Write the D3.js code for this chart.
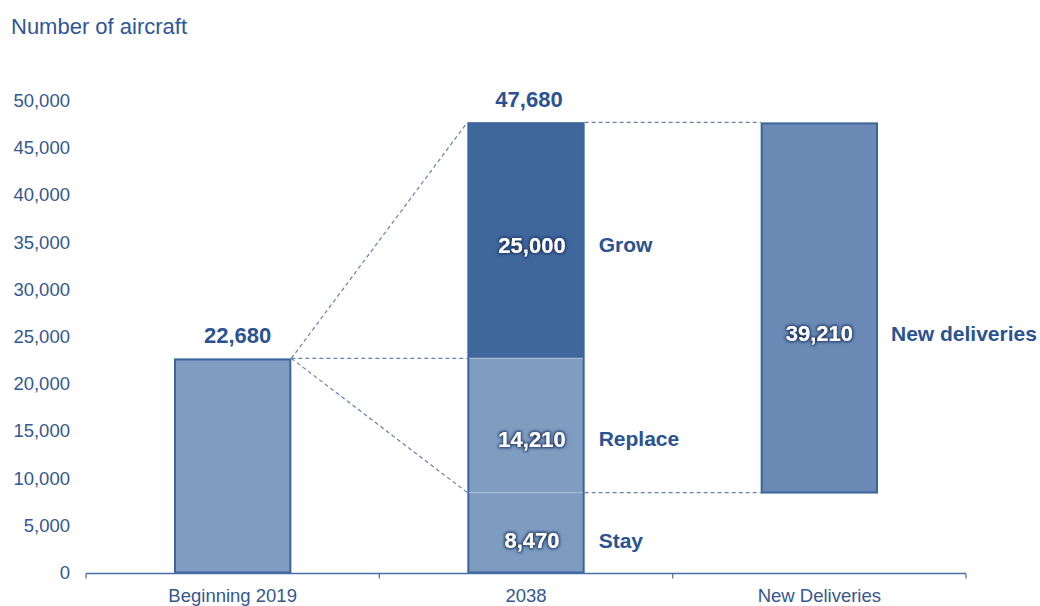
<!DOCTYPE html>
<html>
<head>
<meta charset="utf-8">
<script src="https://cdn.jsdelivr.net/npm/d3@7"></script>
<style>
  html, body { margin: 0; padding: 0; background: #fff; }
  svg { display: block; font-family: "Liberation Sans", Arial, sans-serif; }
</style>
</head>
<body>
<svg id="chart" width="1040" height="606"></svg>
<script>
// Fleet walk: aircraft in service at the beginning of 2019 vs 2038
const categories = ["Beginning 2019", "2038", "New Deliveries"];
const fleetStart = 22680;
const segmentNames = ["Stay", "Replace", "Grow"];
const segmentValues = [8470, 14210, 25000];
const fleetEnd = 47680;
const newDeliveries = 39210;
const deliveriesLabel = "New deliveries";
const yTicks = [0, 5000, 10000, 15000, 20000, 25000, 30000, 35000, 40000, 45000, 50000];
const yTitle = "Number of aircraft";

const svg = d3.select("#chart");
const fmt = d3.format(",");

const x = d3.scaleBand().domain(categories).range([86, 966]).paddingInner(0.6).paddingOuter(0.3);
const y = d3.scaleLinear().domain([0, 50000]).range([572.5, 100.5]);

const textBlue = "#2b5391";
const axisBlue = "#4a6ea6";
const edge = "#3d659d";

// soft dark halo behind the white in-bar figures
const defs = svg.append("defs");
const glow = defs.append("filter").attr("id", "halo").attr("x", "-20%").attr("y", "-40%").attr("width", "140%").attr("height", "180%");
glow.append("feMorphology").attr("in", "SourceAlpha").attr("operator", "dilate").attr("radius", 1.2).attr("result", "thick");
glow.append("feGaussianBlur").attr("in", "thick").attr("stdDeviation", 1.8).attr("result", "blur");
glow.append("feFlood").attr("flood-color", "#1a3766").attr("flood-opacity", 1);
glow.append("feComposite").attr("in2", "blur").attr("operator", "in").attr("result", "shadow");
const merge = glow.append("feMerge");
merge.append("feMergeNode").attr("in", "shadow");
merge.append("feMergeNode").attr("in", "SourceGraphic");

// axis title
svg.append("text").attr("x", 11).attr("y", 34)
  .attr("fill", "#2f5696").attr("font-size", 22).text(yTitle);

// y axis (labels only)
const yAxis = svg.append("g").attr("transform", "translate(86,0)")
  .call(d3.axisLeft(y).tickValues(yTicks).tickFormat(fmt).tickSize(0).tickPadding(16));
yAxis.select(".domain").remove();
yAxis.selectAll("text").attr("fill", "#34588f").attr("font-size", 18.5)
  .attr("font-family", "Liberation Sans, Arial, sans-serif");

// stacked segments for 2038
let acc = 0;
const stack = segmentNames.map((name, i) => {
  const s = { name, value: segmentValues[i], y0: acc, y1: acc + segmentValues[i] };
  acc += segmentValues[i];
  return s;
});
const segFill = { Stay: "#7e9bc0", Replace: "#7f9cc1", Grow: "#3f679c" };
const labelFrac = { Stay: 0.40, Replace: 0.40, Grow: 0.48 };

const bw = x.bandwidth();

// dashed connectors
const conn = svg.append("g").attr("stroke", "#6783ae").attr("stroke-width", 1.2)
  .attr("stroke-dasharray", "4,3").attr("fill", "none");
const x1r = x(categories[0]) + bw, x2l = x(categories[1]), x2r = x(categories[1]) + bw, x3l = x(categories[2]);
[fleetEnd, fleetStart, stack[0].y1].forEach(v => {
  conn.append("line").attr("x1", x1r).attr("y1", y(fleetStart)).attr("x2", x2l).attr("y2", y(v));
});
[fleetEnd, stack[0].y1].forEach(v => {
  conn.append("line").attr("x1", x2r).attr("y1", y(v)).attr("x2", x3l).attr("y2", y(v));
});

// bar: beginning 2019
svg.append("rect")
  .attr("x", x(categories[0]) + 1).attr("width", bw - 2)
  .attr("y", y(fleetStart) + 1).attr("height", y(0) - y(fleetStart) - 1)
  .attr("fill", "#7f9cc1").attr("stroke", edge).attr("stroke-width", 2);

// bar: 2038 stack
svg.append("g").selectAll("rect").data(stack).join("rect")
  .attr("x", x(categories[1]) + 1).attr("width", bw - 2)
  .attr("y", d => y(d.y1)).attr("height", d => y(d.y0) - y(d.y1))
  .attr("fill", d => segFill[d.name]);
svg.append("rect")
  .attr("x", x(categories[1]) + 1).attr("width", bw - 2)
  .attr("y", y(fleetEnd) + 1).attr("height", y(0) - y(fleetEnd) - 1)
  .attr("fill", "none").attr("stroke", edge).attr("stroke-width", 2);
// light seams between segments
svg.append("g").selectAll("line").data(stack.slice(1)).join("line")
  .attr("x1", x(categories[1]) + 2).attr("x2", x(categories[1]) + bw - 2)
  .attr("y1", d => y(d.y0)).attr("y2", d => y(d.y0))
  .attr("stroke", "#a9bcd6").attr("stroke-width", 1.2);

// bar: new deliveries (floats from the retained fleet up to the 2038 total)
const ndBase = fleetEnd - newDeliveries;
svg.append("rect")
  .attr("x", x(categories[2]) + 1).attr("width", bw - 2)
  .attr("y", y(fleetEnd) + 1).attr("height", y(ndBase) - y(fleetEnd) - 1)
  .attr("fill", "#6a8ab5").attr("stroke", edge).attr("stroke-width", 2);

// x axis: baseline, ticks at the category boundaries, centred labels
const y0 = y(0);
const [xa, xb] = x.range();
svg.append("line").attr("x1", xa).attr("x2", xb).attr("y1", y0 + 1).attr("y2", y0 + 1)
  .attr("stroke", axisBlue).attr("stroke-width", 1.5);
svg.append("g").selectAll("line").data(d3.range(categories.length + 1)).join("line")
  .attr("x1", i => xa + (xb - xa) * i / categories.length)
  .attr("x2", i => xa + (xb - xa) * i / categories.length)
  .attr("y1", y0 + 1).attr("y2", y0 + 6).attr("stroke", axisBlue).attr("stroke-width", 1.2);
svg.append("g").selectAll("text").data(categories).join("text")
  .attr("x", d => x(d) + bw / 2).attr("y", 602)
  .attr("text-anchor", "middle").attr("fill", "#34588f").attr("font-size", 18.5)
  .text(d => d);

// totals above bars
svg.append("text").attr("x", x(categories[0]) + bw / 2 + 5).attr("y", y(fleetStart) - 15)
  .attr("text-anchor", "middle").attr("fill", textBlue).attr("font-weight", "bold").attr("font-size", 22)
  .text(fmt(fleetStart));
svg.append("text").attr("x", x(categories[1]) + bw / 2 + 3).attr("y", y(fleetEnd) - 15)
  .attr("text-anchor", "middle").attr("fill", textBlue).attr("font-weight", "bold").attr("font-size", 22)
  .text(fmt(fleetEnd));

// segment figures and names
stack.forEach(s => {
  const cy = y(s.y0 + (s.y1 - s.y0) * labelFrac[s.name]);
  svg.append("text").attr("x", x(categories[1]) + bw / 2 + 6).attr("y", cy).attr("dy", "0.35em")
    .attr("text-anchor", "middle").attr("fill", "#fff").attr("font-weight", "bold").attr("font-size", 22)
    .attr("filter", "url(#halo)").text(fmt(s.value));
  svg.append("text").attr("x", x(categories[1]) + bw + 14).attr("y", cy).attr("dy", "0.35em")
    .attr("fill", textBlue).attr("font-weight", "bold").attr("font-size", 21).text(s.name);
});

// new deliveries figure and name
const ndY = y(ndBase + newDeliveries * 0.43);
svg.append("text").attr("x", x(categories[2]) + bw / 2).attr("y", ndY).attr("dy", "0.35em")
  .attr("text-anchor", "middle").attr("fill", "#fff").attr("font-weight", "bold").attr("font-size", 22)
  .attr("filter", "url(#halo)").text(fmt(newDeliveries));
svg.append("text").attr("x", x(categories[2]) + bw + 13).attr("y", ndY).attr("dy", "0.35em")
  .attr("fill", textBlue).attr("font-weight", "bold").attr("font-size", 21).text(deliveriesLabel);
</script>
</body>
</html>
